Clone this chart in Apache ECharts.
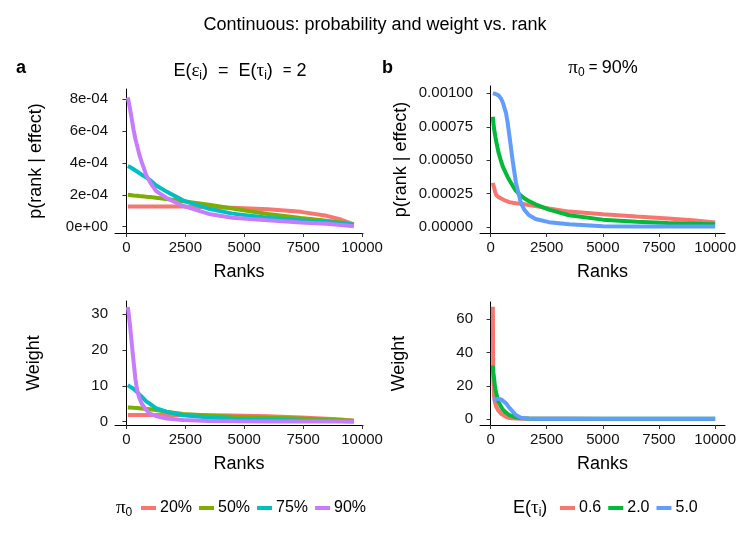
<!DOCTYPE html>
<html><head><meta charset="utf-8">
<script src="https://cdn.jsdelivr.net/npm/echarts@6/dist/echarts.min.js"></script>
<style>html,body{margin:0;padding:0;background:#fff}#c{width:739px;height:544px}</style>
</head><body><div id="c"></div><script>
// ---------- data ----------
const ranksA = [60,150,220,300,380,450,550,650,850,1000,1250,1700,2400,3500,4500,6000,7400,8500,9100,9650];
const pi0Names = ['20%','50%','75%','90%'];
const probA20 = [1.27e-4,1.27e-4,1.27e-4,1.27e-4,1.27e-4,1.27e-4,1.27e-4,1.27e-4,1.27e-4,1.27e-4,1.27e-4,1.27e-4,1.26e-4,1.22e-4,1.18e-4,1.10e-4,0.93e-4,0.68e-4,0.45e-4,0.15e-4];
const probA50 = [2.00e-4,1.99e-4,1.98e-4,1.96e-4,1.95e-4,1.94e-4,1.92e-4,1.91e-4,1.88e-4,1.86e-4,1.82e-4,1.74e-4,1.60e-4,1.38e-4,1.14e-4,0.80e-4,0.55e-4,0.37e-4,0.27e-4,0.12e-4];
const probA75 = [3.80e-4,3.74e-4,3.68e-4,3.60e-4,3.52e-4,3.46e-4,3.36e-4,3.26e-4,3.08e-4,2.92e-4,2.60e-4,2.20e-4,1.65e-4,1.12e-4,0.82e-4,0.56e-4,0.40e-4,0.30e-4,0.23e-4,0.12e-4];
const probA90 = [8.10e-4,7.40e-4,6.80e-4,6.10e-4,5.50e-4,5.10e-4,4.50e-4,4.05e-4,3.20e-4,2.80e-4,2.25e-4,1.80e-4,1.30e-4,0.80e-4,0.56e-4,0.40e-4,0.27e-4,0.18e-4,0.11e-4,0.03e-4];
const wA20 = [1.9,1.9,1.9,1.9,1.9,1.9,1.9,1.9,1.9,1.9,1.9,1.9,1.88,1.82,1.72,1.5,1.15,0.85,0.6,0.25];
const wA50 = [4.0,3.97,3.93,3.88,3.84,3.8,3.74,3.68,3.56,3.46,3.27,2.8,2.15,1.7,1.4,1.1,0.88,0.65,0.5,0.25];
const wA75 = [10.2,9.8,9.5,9.2,8.7,8.3,7.6,7.0,5.6,5.0,3.8,2.8,1.8,1.15,0.85,0.55,0.35,0.25,0.2,0.1];
const wA90 = [32,27,22.3,17,12,8.9,6.6,5.0,3.2,2.3,1.6,0.9,0.45,0.2,0.12,0.08,0.05,0.04,0.03,0.02];

const ranksB = [100,120,150,200,250,350,470,550,690,760,840,980,1130,1350,1500,1700,2000,2600,3500,5000,6500,7900,9000,10000];
const tauNames = ['0.6','2.0','5.0'];
const probB06 = [3.3e-4,3.15e-4,3.0e-4,2.65e-4,2.4e-4,2.25e-4,2.13e-4,2.05e-4,1.95e-4,1.9e-4,1.86e-4,1.82e-4,1.78e-4,1.74e-4,1.7e-4,1.64e-4,1.56e-4,1.38e-4,1.15e-4,0.95e-4,0.78e-4,0.63e-4,0.5e-4,0.33e-4];
const probB20 = [8.25e-4,7.9e-4,7.4e-4,6.9e-4,6.4e-4,5.6e-4,4.9e-4,4.5e-4,4.0e-4,3.75e-4,3.5e-4,3.1e-4,2.7e-4,2.35e-4,2.15e-4,1.95e-4,1.7e-4,1.3e-4,0.88e-4,0.55e-4,0.4e-4,0.3e-4,0.25e-4,0.2e-4];
const probB50 = [10.0e-4,10.0e-4,10.0e-4,9.97e-4,9.95e-4,9.85e-4,9.6e-4,9.3e-4,8.5e-4,7.8e-4,6.8e-4,5.0e-4,3.3e-4,1.8e-4,1.3e-4,0.9e-4,0.6e-4,0.36e-4,0.2e-4,0.06e-4,0.04e-4,0.03e-4,0.03e-4,0.03e-4];
const wB06 = [67.6,25,14,10,7.5,5.0,3.2,2.4,1.3,1.0,0.6,0.4,0.3,0.2,0.15,0.12,0.1,0.1,0.1,0.08,0.08,0.08,0.08,0.08];
const wB20 = [32.3,28,25,19,15.5,10.5,7.3,5.6,3.8,3.1,2.4,1.7,1.0,0.6,0.4,0.3,0.2,0.15,0.12,0.1,0.1,0.1,0.1,0.1];
const wB50 = [12.4,12.4,12.3,12.2,12.1,12.0,11.8,11.3,9.4,8.2,6.7,4.6,2.4,0.8,0.45,0.3,0.2,0.15,0.12,0.12,0.12,0.12,0.12,0.12];

const xTicks = [0,2500,5000,7500,10000];
const yTicksA1 = [0,2e-4,4e-4,6e-4,8e-4];
const yTicksA2 = [0,10,20,30];
const yTicksB1 = [0,0.00025,0.0005,0.00075,0.001];
const yTicksB2 = [0,20,40,60];

const colorsA = ['#F8766D','#7CAE00','#00BFC4','#C77CFF'];
const colorsB = ['#F8766D','#00BA38','#619CFF'];

// ---------- chart ----------
const FONT = 'Liberation Sans, Arial, sans-serif';
const SERIF = 'Liberation Serif, DejaVu Serif, serif';

function xAx(gi, min, max) {
  return {type:'value', gridIndex:gi, min:min, max:max, name:'Ranks', nameLocation:'middle', nameGap:30,
    nameTextStyle:{fontSize:18, color:'#000', fontFamily:FONT},
    axisLine:{show:true, onZero:false, lineStyle:{color:'#000', width:1}},
    axisTick:{show:true, length:4, customValues:xTicks, lineStyle:{color:'#333'}},
    axisLabel:{customValues:xTicks, fontSize:15, color:'#111', margin:7, fontFamily:FONT, formatter:v=>String(v)},
    splitLine:{show:false}};
}
function yAx(gi, min, max, ticks, name, fmt, gap) {
  return {type:'value', gridIndex:gi, min:min, max:max, name:name, nameLocation:'middle', nameGap:gap,
    nameTextStyle:{fontSize:18, color:'#000', fontFamily:FONT},
    axisLine:{show:true, lineStyle:{color:'#000', width:1}},
    axisTick:{show:true, length:4, customValues:ticks, lineStyle:{color:'#333'}},
    axisLabel:{customValues:ticks, fontSize:15, color:'#111', margin:7, fontFamily:FONT, formatter:fmt},
    splitLine:{show:false}};
}
function mk(name, xs, ys, color, idx) {
  return {type:'line', name:name, xAxisIndex:idx, yAxisIndex:idx, showSymbol:false, symbol:'none',
    lineStyle:{width:4, color:color, cap:'butt'}, itemStyle:{color:color},
    data: xs.map((x,i)=>[x, ys[i]]), animation:false, silent:true};
}
const richBase = {
  n:{fontSize:18, fontWeight:'normal', fontFamily:FONT, color:'#000', lineHeight:22, verticalAlign:'middle'},
  g:{fontSize:19, fontWeight:'normal', fontFamily:SERIF, color:'#000', lineHeight:22, verticalAlign:'middle'},
  s:{fontSize:12, fontWeight:'normal', fontFamily:FONT, color:'#000', lineHeight:12, verticalAlign:'bottom'},
  e:{fontSize:15, fontWeight:'normal', fontFamily:FONT, color:'#000', lineHeight:22, verticalAlign:'middle'}
};

const series = [];
[probA20,probA50,probA75,probA90].forEach((d,i)=>series.push(mk(pi0Names[i], ranksA, d, colorsA[i], 0)));
[wA20,wA50,wA75,wA90].forEach((d,i)=>series.push(mk(pi0Names[i], ranksA, d, colorsA[i], 1)));
[probB06,probB20,probB50].forEach((d,i)=>series.push(mk(tauNames[i], ranksB, d, colorsB[i], 2)));
[wB06,wB20,wB50].forEach((d,i)=>series.push(mk(tauNames[i], ranksB, d, colorsB[i], 3)));

const option = {
  backgroundColor:'#fff',
  animation:false,
  title:[
    {text:'Continuous: probability and weight vs. rank', left:370, textAlign:'center', top:11,
      textStyle:{fontSize:18, fontWeight:'normal', color:'#000', fontFamily:FONT}},
    {text:'a', left:11, top:54, textStyle:{fontSize:18, fontWeight:'bold', color:'#000', fontFamily:FONT}},
    {text:'b', left:377, top:54, textStyle:{fontSize:18, fontWeight:'bold', color:'#000', fontFamily:FONT}},
    {text:'{n|E(}{g|ε}{s|i}{n|)  =  E(}{g|τ}{s|i}{n|)  }{e|=}{n| 2}', left:240, textAlign:'center', top:60,
      padding:0, textStyle:{fontWeight:'normal', rich:richBase}},
    {text:'{g|π}{s|0}{e| = }{n|90%}', left:603, textAlign:'center', top:57, padding:0,
      textStyle:{fontWeight:'normal', rich:richBase}},
    {text:'{g|π}{s|0}', left:116, top:497, padding:0, textStyle:{fontWeight:'normal', rich:richBase}},
    {text:'{n|E(}{g|τ}{s|i}{n|)}', left:513, top:497, padding:0, textStyle:{fontWeight:'normal', rich:richBase}}
  ],
  legend:[
    {data:pi0Names, left:141, top:500, padding:0, itemWidth:15, itemHeight:4, itemGap:7, icon:'rect',
      selectedMode:false, textStyle:{fontSize:16, color:'#000', fontFamily:FONT, padding:[0,0,0,-1]}},
    {data:tauNames, left:560, top:500, padding:0, itemWidth:15, itemHeight:4, itemGap:7, icon:'rect',
      selectedMode:false, textStyle:{fontSize:16, color:'#000', fontFamily:FONT, padding:[0,0,0,-1]}}
  ],
  grid:[
    {left:115, top:89, width:248, height:144},
    {left:115, top:301, width:248, height:124},
    {left:480, top:86, width:248, height:147},
    {left:480, top:302, width:248, height:123}
  ],
  xAxis:[xAx(0,-485,10040), xAx(1,-485,10040), xAx(2,-471,10440), xAx(3,-471,10440)],
  yAxis:[
    yAx(0,-0.395e-4,8.63e-4,yTicksA1,'p(rank | effect)', v=> v===0?'0e+00':(Math.round(v*1e4))+'e-04', 70),
    yAx(1,-0.92,33.7,yTicksA2,'Weight', v=>String(v), 72),
    yAx(2,-0.45e-4,10.55e-4,yTicksB1,'p(rank | effect)', v=>v.toFixed(5), 70),
    yAx(3,-3.6,70.4,yTicksB2,'Weight', v=>String(v), 72)
  ],
  series:series
};
const chart = echarts.init(document.getElementById('c'), null, {renderer:'canvas'});
chart.setOption(option);
</script></body></html>
